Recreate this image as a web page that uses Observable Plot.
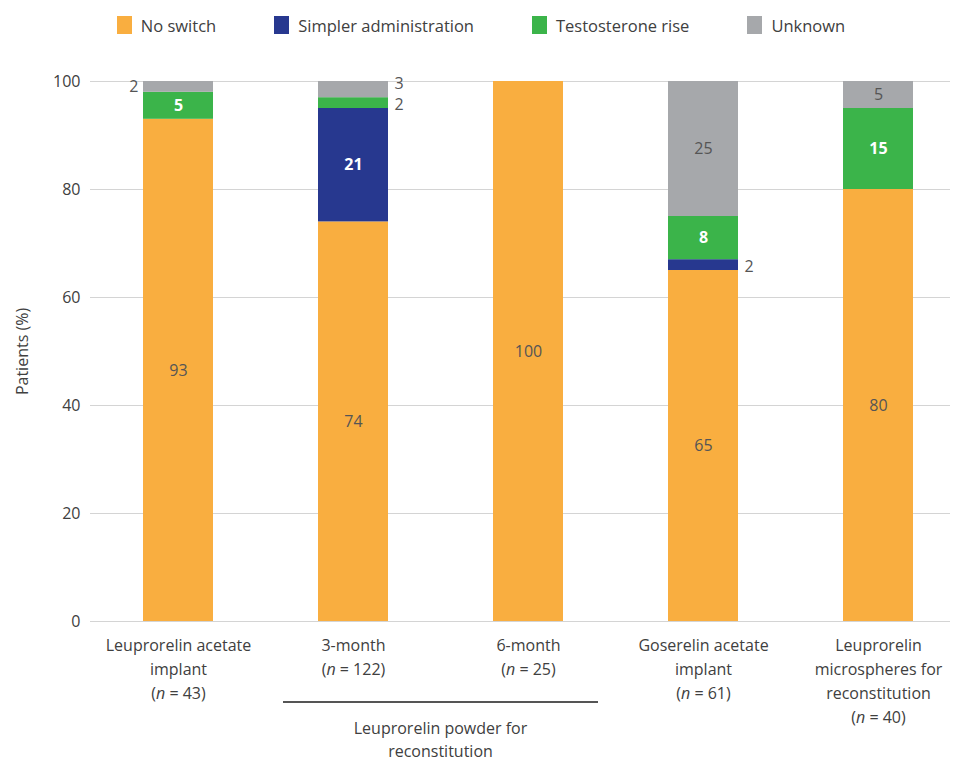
<!DOCTYPE html>
<html><head><meta charset="utf-8">
<script src="https://cdn.jsdelivr.net/npm/d3@7"></script>
<script src="https://cdn.jsdelivr.net/npm/@observablehq/plot@0.6"></script>
<style>
body{margin:0;background:#fff;font-family:"Open Sans",sans-serif;}
#legend{display:flex;justify-content:center;align-items:center;gap:58px;height:50px;font-size:16.5px;color:#404040;padding-left:8px;box-sizing:border-box;width:954px;}
.item{display:flex;align-items:center;gap:9px}
.sw{width:15px;height:18px;display:inline-block}
</style></head><body>
<div id="legend"></div>
<div id="chart"></div>
<script>
const categories = ["Leuprorelin acetate implant","3-month","6-month","Goserelin acetate implant","Leuprorelin microspheres for reconstitution"];
const tickLabels = ["Leuprorelin acetate\nimplant\n(n = 43)", "3-month\n(n = 122)", "6-month\n(n = 25)", "Goserelin acetate\nimplant\n(n = 61)", "Leuprorelin\nmicrospheres for\nreconstitution\n(n = 40)"];
const series = ["No switch","Simpler administration","Testosterone rise","Unknown"];
const colors = ["#F9AE40","#27388F","#3BB44A","#A6A8AB"];
const noSwitch = [93,74,100,65,80];
const simpler = [0,21,0,2,0];
const testosterone = [5,2,0,8,15];
const unknown = [2,3,0,25,5];
const groupLabel = ["Leuprorelin powder for","reconstitution"];
const groupMembers = ["3-month","6-month"];
const yTicks = [0,20,40,60,80,100];

const seriesValues = [noSwitch, simpler, testosterone, unknown];
const data = [];
categories.forEach((c, i) => {
  series.forEach((s, j) => data.push({category: c, idx: i, series: s, value: seriesValues[j][i]}));
});

// legend
const leg = d3.select("#legend");
series.forEach((s, j) => {
  const it = leg.append("div").attr("class","item");
  it.append("span").attr("class","sw").style("background", colors[j]);
  it.append("span").text(s);
});

const small = d => d.value > 0 && d.value < 5;
const plot = Plot.plot({
  width: 954, height: 711,
  marginTop: 31, marginBottom: 140, marginLeft: 90, marginRight: 4,
  style: {fontFamily: '"Open Sans", sans-serif', fontSize: "16px", color: "#404040", background: "#fff"},
  x: {domain: categories, range: [90, 967], paddingInner: 0.6, paddingOuter: 0.3, label: null},
  y: {domain: [0, 100], ticks: yTicks, label: "Patients (%)"},
  color: {domain: series, range: colors},
  marks: [
    Plot.gridY(yTicks, {stroke: "#d4d4d4", strokeOpacity: 1, strokeWidth: 1.2}),
    Plot.barY(data, {x: "category", y: "value", fill: "series"}),
    Plot.axisY({ticks: yTicks, tickSize: 0, tickPadding: 10, label: "Patients (%)", labelAnchor: "center", labelArrow: "none", labelOffset: 74, fontSize: 16}),
    Plot.axisX({tickSize: 0, tickPadding: 12, tickFormat: d => tickLabels[categories.indexOf(d)], lineHeight: 1.5, label: null}),
    Plot.text(data, Plot.stackY({x: "category", y: "value",
      text: d => d.value >= 5 && (d.series === "No switch" || d.series === "Unknown") ? String(d.value) : null,
      fill: "#555555"})),
    Plot.text(data, Plot.stackY({x: "category", y: "value",
      text: d => d.value >= 5 && (d.series === "Simpler administration" || d.series === "Testosterone rise") ? String(d.value) : null,
      fill: "white", fontWeight: "bold"})),
    Plot.text(data, Plot.stackY({x: "category", y: "value",
      text: d => small(d) && d.idx === 0 ? String(d.value) : null,
      fill: "#555555", textAnchor: "end", dx: -40})),
    Plot.text(data, Plot.stackY({x: "category", y: "value",
      text: d => small(d) && d.idx > 0 && d.series !== "Unknown" ? String(d.value) : null,
      fill: "#555555", textAnchor: "start", dx: 41, dy: 2})),
    Plot.text(data, Plot.stackY({x: "category", y: "value",
      text: d => small(d) && d.idx > 0 && d.series === "Unknown" ? String(d.value) : null,
      fill: "#555555", textAnchor: "start", dx: 41, dy: -6}))
  ]
});
document.getElementById("chart").appendChild(plot);

// italic n in tick labels
const svg = d3.select(plot);
svg.selectAll("tspan").each(function() {
  const t = this.textContent;
  const m = /^\(n = (\d+)\)$/.exec(t);
  if (m) {
    const s = d3.select(this);
    s.text("");
    s.append("tspan").text("(");
    s.append("tspan").attr("font-style", "italic").text("n");
    s.append("tspan").text(" = " + m[1] + ")");
  }
});

// group bracket
const xs = plot.scale("x");
const bw = xs.bandwidth;
const x1 = xs.apply(groupMembers[0]) - bw / 2;
const x2 = xs.apply(groupMembers[1]) + bw * 1.5;
const ys = plot.scale("y");
const y0 = ys.apply(0);
const g = svg.append("g");
g.append("line").attr("x1", x1).attr("x2", x2).attr("y1", y0 + 81).attr("y2", y0 + 81)
  .attr("stroke", "#555").attr("stroke-width", 2);
const gt = g.append("text").attr("text-anchor", "middle").attr("fill", "#404040")
  .attr("font-family", '"Open Sans", sans-serif').attr("font-size", 16);
groupLabel.forEach((l, i) => {
  gt.append("tspan").attr("x", (x1 + x2) / 2).attr("y", y0 + 113 + i * 23).text(l);
});
</script>
</body></html>
